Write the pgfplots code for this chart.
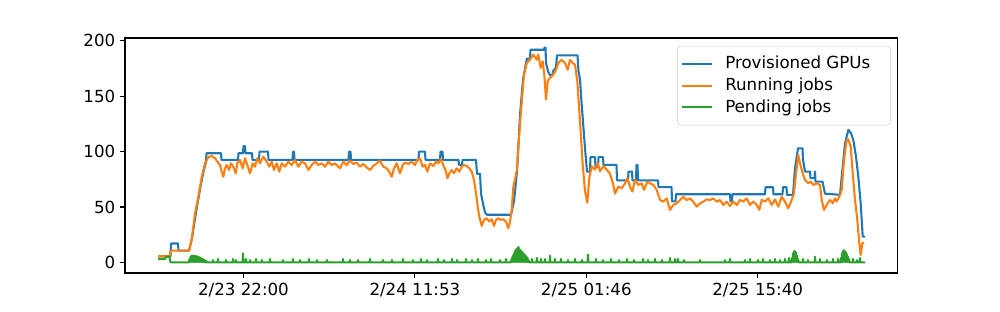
\documentclass[border=0pt]{standalone}
\usepackage{fontspec}
\setmainfont{DejaVu Sans}
\usepackage{pgfplots}
\pgfplotsset{compat=1.18}
\definecolor{tabblue}{HTML}{1F77B4}
\definecolor{taborange}{HTML}{FF7F0E}
\definecolor{tabgreen}{HTML}{2CA02C}
\newcommand{\lblfont}{\fontsize{12}{14}\selectfont}
\begin{document}
\begin{tikzpicture}
\useasboundingbox (0pt,0pt) rectangle (720pt,224.64pt);
\begin{axis}[
  at={(90pt,28.08pt)}, anchor=south west,
  scale only axis, width=556.2pt, height=169.2pt,
  xmin=125, xmax=897.5, ymin=-9.65, ymax=202.65,
  xtick={243.5,414.9,586.3,757.7},
  xticklabels={2/23 22:00,2/24 11:53,2/25 01:46,2/25 15:40},
  ytick={0,50,100,150,200},
  xtick pos=lower, ytick pos=left,
  tick align=outside, major tick length=3.5pt,
  every tick/.style={black, line width=0.8pt},
  axis line style={line width=0.8pt},
  /pgf/number format/assume math mode=true,
  tick label style={font=\lblfont},
  legend style={at={(0.991,0.967)}, anchor=north east, draw=black!20, fill=white,
    fill opacity=0.8, draw opacity=1, text opacity=1, rounded corners=2pt,
    font=\lblfont, inner xsep=2.6pt, inner ysep=6pt, row sep=1.5pt,
    nodes={inner sep=1pt, text height=9.5pt, text depth=2.5pt}},
  legend cell align=left,
  legend image code/.code={\draw[#1, line width=1.5pt] (0pt,0pt) -- (21.6pt,0pt); \path (29.2pt,0pt);},
]
\addplot[tabblue, line width=1.5pt, line join=round] coordinates {
(158,5.5)(170.5,5.5)(171,17)(178,17)(178.5,10.5)(189,10.5)(192,22)(196,45)(200,66)(203,80)(206,91)(206.5,98.5)(221,98.5)(221.5,92.5)(238,92.5)(238.5,98.5)(243,98.5)(243.5,105)(245,105)(245.5,98.5)(252,98.5)(252.5,92.5)(259,92.5)(259.5,100)(268,100)(268.5,92.5)(292.5,92.5)(293,100)(294,100)(294.5,92.5)(348.5,92.5)(349,100)(350.5,100)(351,92.5)(418.5,92.5)(419,100)(425,100)(425.5,92.5)(440,92.5)(440.5,100)(442.5,100)(443,92.5)(458.5,92.5)(459,88)(462,88)(462.5,92.5)(476,92.5)(477,80)(480,80)(481,62)(483,53)(485,45)(487,43)(511,43)(514,55)(517,82)(520,133)(523,165)(526,180)(527,184)(530,184)(530.5,192)(544,192)(544.5,194)(545.5,194)(546,180)(548,172.6)(550,169)(552.5,169)(553,172.6)(556,176)(557,187)(577.5,187)(578.5,172.6)(580,165)(581.5,145)(583,127)(585,103)(587,82)(590,82)(590.5,95)(595,95)(595.5,86)(598,86)(598.5,95)(603,95)(603.5,88)(616.5,88)(617,74)(628,74)(628.5,82)(632,82)(632.5,74)(636,74)(636.5,88)(637.5,88)(638,74)(658,74)(658.5,68)(671.5,68)(672,55)(675.5,55)(676,61.5)(730,61.5)(730.5,55)(732,55)(732.5,61.5)(765,61.5)(765.5,67.8)(773,67.8)(773.5,61.5)(782.5,61.5)(783,67.8)(786.5,67.8)(787,61)(793,61)(795,85)(798,103)(802.5,103)(803,92.5)(805,82)(810,82)(810.5,76)(814.5,76)(815,82)(815.5,72.9)(822.5,72.9)(825,62)(840,61)(841.7,77)(845,107.5)(848.3,119.6)(851,116.6)(853.3,110.5)(856,95.5)(858.3,77.4)(860.7,53.3)(862.7,23.2)(865,23.2)
};
\addlegendentry{\makebox[115.2pt][l]{Provisioned GPUs}}
\addplot[taborange, line width=1.5pt, line join=round] coordinates {
(158,5.5)(170,5.5)(170.5,10.5)(189,10.5)(191.7,20)(195,44)(198.3,59)(201.7,77)(205,89.4)(208.3,94.9)(211.7,96.1)(215,94)(217.3,91)(220,87.9)(221.7,81.9)(223.3,77.4)(225,84.9)(226.7,87.9)(229,83.4)(231,89.4)(233.3,86.4)(235.7,80.4)(237.3,89.4)(240,92.5)(242.7,84.9)(245,94)(247.3,87.9)(250,80.4)(252.7,89.4)(255,86.4)(257.3,94)(260,89.4)(263.3,95.5)(266.7,91)(269.3,86.4)(271.7,91)(274,83.4)(276.7,89.4)(279.3,81.9)(281.7,89.4)(285,86.4)(288.3,91)(291.7,87.9)(295,92.5)(298.3,86.4)(301.7,91)(305,89.4)(308.3,83.4)(311.7,87.9)(315,91)(318.3,87.9)(321.7,89.4)(325,86.4)(328.3,91)(331.7,87.9)(335,89.4)(338.3,86.4)
(340,84.9)(343.3,91)(346.7,87.9)(350,91.9)(353.3,88.8)(356.7,90.1)(360,86.4)(363.3,88.8)(366.7,85.8)(370,83.4)(373.3,87)(376.7,89.4)(380,91.9)(383.3,86.4)(386.7,84.9)(389.3,81.9)(391.7,77.4)(394,84.9)(396.7,89.4)(400,80.4)(402.7,87.9)(405,90.1)(408.3,88.8)(411.7,91)(415,87.9)(417.3,92.5)(420,94)(422.7,86.4)(425,87.9)(427.3,81.9)(430,89.4)(433.3,87)(436,91)(438.3,89.4)(440.7,93.1)(443.3,87.9)(446,81.9)(447.3,75.9)(449.3,80.4)(451.7,83.4)(454,80.4)(456.7,84.9)(459.3,81.9)(461.7,86.4)(464,87.9)(466.7,87)(469.3,84.9)(471.7,81.9)(474,74.4)(476,62.4)(477.7,50.3)(479.3,41.3)(481.7,32.9)(484,38.3)(486.7,39.8)(489.3,36.8)(491.7,38.9)(494,32.9)(496,38.3)(498.3,39.8)(500.7,38.3)(503.3,38.9)(506,36.8)(508.3,30.7)(510,36.8)(511.7,47.3)(513.3,68)(516.7,82.2)
(520.7,133.4)(524,169.6)(526.7,180)(530,183)(533.3,187.6)(536.7,183)(538.3,187.6)(540.7,175.6)(542.7,181.6)(544.3,169.6)(546,147)(547.7,163.6)(550,166.6)(553.3,169.6)(556,174)(558.3,180)(561.7,183)(565,180)(567.7,174)(570,183)(572.7,180)(575,178.6)(577.3,163.6)(580,127.4)(582.7,88.2)(585,64.3)(587.3,53.8)(589.3,76.2)(591.7,86.8)(595,83.8)(597.7,89.8)(600,82.2)(603.3,86.8)(606.7,83.8)
(610,80)(613.3,70)(615,62)(618.3,68.4)(621.7,66.9)(625,71.4)(627.3,75.9)(630,68.4)(632.3,63.8)(635,74.4)(638.3,69.9)(641.7,71.4)(644,65.4)(647.3,72.9)(650,71.4)(653.3,69.9)(656.7,65.4)(660,56.3)(663.3,54.8)(666.7,57.8)(670,47.3)(673.3,51.8)(676.7,53.3)(680,56.3)(683.3,59.3)(686.7,56.3)(690,57.8)(693.3,54.8)(696.7,50.3)(700,53.3)(703.3,54.8)(706.7,56.9)(710,56.3)(713.3,57.8)(716.7,54.8)(720,56.3)(723.3,51.8)(726.7,54.8)(730,50.9)(733.3,54.8)(736.7,51.8)(740,56.3)(743.3,54.9)(746.7,57.8)(750,51.8)(753.3,54.9)(756.7,51.8)(759.3,47.3)(761.7,56.4)(765,54.9)(768.3,57.8)(771.7,51.8)(775,56.9)(778.3,50.3)(781.7,59.3)(785,54.9)(788.3,48.8)(791.7,56.4)(794,62.3)(796,80.4)(798.3,97)(800,89.4)(802.7,80.4)(805,74.4)(808.3,71.4)(810.7,72.9)(813.3,69.9)(816.7,71.4)(820,69.9)(821.7,56.4)(824,47.3)(826.7,51.8)(830,56.4)(832.7,53.4)(835,57.8)(836.7,54.9)(839.3,59.3)(841.7,65.4)(844,92.5)(846.7,110.5)(848.3,111.1)(850.7,104.5)(852.7,80.4)(855,56.4)(857.3,38.3)(859.3,17.3)(860.7,6.7)(862.3,17.3)(864,17.3)
};
\addlegendentry{Running jobs}
\addplot[tabgreen, line width=1.5pt, line join=round] coordinates {
(158,3)(165,3)(166,5)(169.5,5)(170.5,0)(189,0)
(189.5,3)(190,0.5)(190.5,5)(191,0.5)(191.5,6)(192,0.5)(192.5,6)(193,0.5)(193.5,6)(194,0.5)(194.5,6)(195,0.5)(195.5,5.5)(196,0.5)(196.5,5.5)(197,0.5)(197.5,5)(198,0.5)(198.5,5)(199,0.5)(199.5,4.5)(200,0.5)(200.5,4)(201,0.5)(201.5,3.5)(202,0.3)(202.5,3)(203,0.3)(203.5,2.5)(204,0.3)(204.5,2)(205,0)(205.5,1.5)(206,0)(206.5,1)(207,0)
(212.6,0)(213,2)(213.4,0)(217.6,0)(218,3)(218.4,0)(225.6,0)(226,2)(226.4,0)(232.6,0)(233,3)(233.4,0)(235.6,0)(236,2)(236.4,0)(242.6,0)(243,8)(243.4,0)(245.6,0)(246,3)(246.4,0)(249.6,0)(250,2)(250.4,0)(255.6,0)(256,3)(256.4,0)(261.6,0)(262,2)(262.4,0)(269.6,0)(270,3)(270.4,0)(282.6,0)(283,2)(283.4,0)(292.6,0)(293,3)(293.4,0)(299.6,0)(300,2)(300.4,0)(308.6,0)(309,3)(309.4,0)(316.6,0)(317,2)(317.4,0)(326.6,0)(327,2)(327.4,0)(342.6,0)(343,3)(343.4,0)(349.6,0)(350,2)(350.4,0)(357.6,0)(358,2)(358.4,0)(369.6,0)(370,3)(370.4,0)(382.6,0)(383,2)(383.4,0)(391.6,0)(392,2)(392.4,0)(402.6,0)(403,3)(403.4,0)(412.6,0)(413,2)(413.4,0)(420.6,0)(421,3)(421.4,0)(426.6,0)(427,2)(427.4,0)(437.6,0)(438,3)(438.4,0)(443.6,0)(444,2)(444.4,0)(451.6,0)(452,3)(452.4,0)(456.6,0)(457,2)(457.4,0)(465.6,0)(466,3)(466.4,0)(471.6,0)(472,2)(472.4,0)(477.6,0)(478,3)(478.4,0)(485.6,0)(486,2)(486.4,0)(490.6,0)(491,3)(491.4,0)(499.6,0)(500,2)(500.4,0)(505.6,0)(506,3)(506.4,0)
(511,0)(511.5,3)(512,0.5)(512.5,5)(513,0.5)(513.5,7)(514,0.5)(514.5,9)(515,0.5)(515.5,11)(516,0.5)(516.5,12)(517,0.5)(517.5,13)(518,0.5)(518.5,14)(519,0.5)(519.5,12)(520,0.5)(520.5,11)(521,0.5)(521.5,10)(522,0.5)(522.5,9)(523,0.5)(523.5,8)(524,0.5)(524.5,7)(525,0.5)(525.5,6)(526,0.5)(526.5,5)(527,0.5)(527.5,4)(528,0.3)(528.5,2)(529,0)
(531.6,0)(532,3)(532.4,0)(536.6,0)(537,4)(537.4,0)(540.6,0)(541,3)(541.4,0)(544.6,0)(545,3)(545.4,0)(549.6,0)(550,6)(550.4,0)(554.6,0)(555,3)(555.4,0)(560.6,0)(561,3)(561.4,0)(567.6,0)(568,2)(568.4,0)(574.6,0)(575,3)(575.4,0)(581.6,0)(582,2)(582.4,0)(587.6,0)(588,7)(588.4,0)(595.6,0)(596,3)(596.4,0)(602.6,0)(603,2)(603.4,0)(610.6,0)(611,3)(611.4,0)(618.6,0)(619,2)(619.4,0)(626.6,0)(627,3)(627.4,0)(633.6,0)(634,2)(634.4,0)(642.6,0)(643,3)(643.4,0)(647.6,0)(648,2)(648.4,0)(654.6,0)(655,3)(655.4,0)(661.6,0)(662,2)(662.4,0)(669.6,0)(670,4)(670.4,0)(674.6,0)(675,3)(675.4,0)(677.6,0)(678,3)(678.4,0)(683.6,0)(684,2)(684.4,0)(699.6,0)(700,2)(700.4,0)(724.6,0)(725,2)(725.4,0)(729.6,0)(730,3)(730.4,0)(744.6,0)(745,2)(745.4,0)(749.6,0)(750,3)(750.4,0)(757.6,0)(758,2)(758.4,0)(762.6,0)(763,3)(763.4,0)(769.6,0)(770,2)(770.4,0)(774.6,0)(775,3)(775.4,0)(779.6,0)(780,2)(780.4,0)(784.6,0)(785,3)(785.4,0)(788.6,0)(789,4)(789.4,0)
(791.5,0)(792,4)(792.5,0.5)(793,8)(793.5,0.5)(794,10)(794.5,0.5)(795,10)(795.5,0.5)(796,9)(796.5,0.5)(797,6)(797.5,0.5)(798,3)(798.5,0)
(802.6,0)(803,3)(803.4,0)(807.6,0)(808,2)(808.4,0)(814.6,0)(815,5)(815.4,0)(819.6,0)(820,3)(820.4,0)(826.6,0)(827,2)(827.4,0)(832.6,0)(833,3)(833.4,0)(837.6,0)(838,3)(838.4,0)
(840.5,0)(841,4)(841.5,0.5)(842,8)(842.5,0.5)(843,10)(843.5,0.5)(844,11)(844.5,0.5)(845,10)(845.5,0.5)(846,9)(846.5,0.5)(847,7)(847.5,0.5)(848,5)(848.5,0.5)(849,3)(849.5,0)
(852.6,0)(853,3)(853.4,0)(856.6,0)(857,2)(857.4,0)(859.6,0)(860,4)(860.4,0)(865,0)
};
\addlegendentry{Pending jobs}
\end{axis}
\end{tikzpicture}
\end{document}
